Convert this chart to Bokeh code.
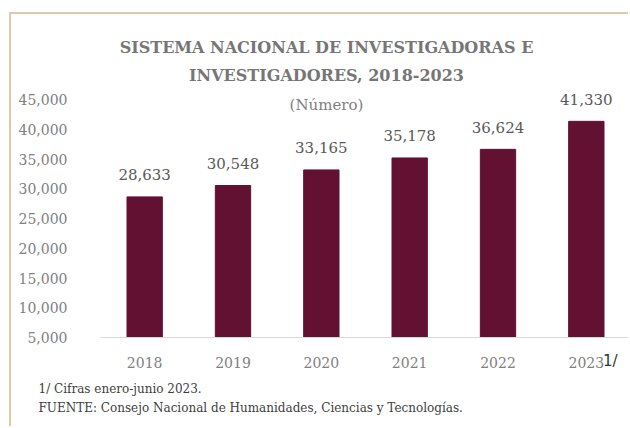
from bokeh.plotting import figure
from bokeh.models import (ColumnDataSource, LabelSet, Label, FixedTicker, Range1d,
                          NumeralTickFormatter, LinearAxis, Title)
from bokeh.embed import file_html
from bokeh.resources import INLINE
from bokeh.core.properties import value

years = ["2018", "2019", "2020", "2021", "2022", "2023"]
counts = [28633, 30548, 33165, 35178, 36624, 41330]
y_ticks = [5000, 10000, 15000, 20000, 25000, 30000, 35000, 40000, 45000]

title1 = "SISTEMA NACIONAL DE INVESTIGADORAS E"
title2 = "INVESTIGADORES, 2018-2023"
subtitle = "(Número)"
note1 = "1/ Cifras enero-junio 2023."
note2 = "FUENTE: Consejo Nacional de Humanidades, Ciencias y Tecnologías."
note_mark = "1/"

SERIF = "DejaVu Serif"
BAR = "#621132"
FRAME = "#DDCBA6"

xs = list(range(len(years)))
src = ColumnDataSource(dict(x=xs, y=counts, lab=[f"{v:,}" for v in counts]))

p = figure(width=619, height=414, output_backend="svg", toolbar_location=None,
           x_range=Range1d(-0.5, 5.5), y_range=Range1d(5000, 59290),
           min_border_left=89, min_border_right=0, min_border_top=0, min_border_bottom=91)
p.styles = {"border-top": f"2px solid {FRAME}", "border-left": f"2px solid {FRAME}",
            "margin-left": "9px", "margin-top": "12px"}
p.outline_line_color = None
p.background_fill_color = "white"
p.border_fill_color = "white"
p.xgrid.grid_line_color = None
p.ygrid.grid_line_color = None

p.vbar(x="x", top="y", bottom=5000, width=0.4, source=src, color=BAR)

p.xaxis.ticker = FixedTicker(ticks=xs)
p.xaxis.major_label_overrides = {i: y for i, y in enumerate(years)}
p.xaxis.axis_line_color = "#d9d9d9"
p.xaxis.major_tick_line_color = None
p.xaxis.minor_tick_line_color = None
p.xaxis.major_label_text_font = SERIF
p.xaxis.major_label_text_font_size = "14px"
p.xaxis.major_label_text_color = "#808080"
p.xaxis.major_label_standoff = 13

mark_axis = LinearAxis(ticker=FixedTicker(ticks=[5.27]), major_label_overrides={5.27: note_mark},
                       axis_line_color=None, major_tick_line_color=None, minor_tick_line_color=None,
                       major_label_text_font="DejaVu Sans", major_label_text_font_size="15px",
                       major_label_text_color="#333333", major_label_standoff=-25)
p.add_layout(mark_axis, "below")

p.yaxis.ticker = FixedTicker(ticks=y_ticks)
p.yaxis.formatter = NumeralTickFormatter(format="0,0")
p.yaxis.axis_line_color = None
p.yaxis.major_tick_line_color = None
p.yaxis.minor_tick_line_color = None
p.yaxis.major_label_text_font = SERIF
p.yaxis.major_label_text_font_size = "14px"
p.yaxis.major_label_text_color = "#808080"
p.yaxis.major_label_standoff = 27

p.add_layout(LabelSet(x="x", y="y", text="lab", source=src, text_align="center",
                      text_baseline="middle", y_offset=22, text_font=value(SERIF),
                      text_font_size="15px", text_color="#595959"))

def lab(text, x, y, size, color, style="normal"):
    p.add_layout(Label(x=x, y=y, x_units="screen", y_units="screen", text=text, text_align="center",
                       text_baseline="middle", text_font=SERIF, text_font_size=size,
                       text_color=color, text_font_style=style))

lab(title1, 226, 290, "16px", "#767676", "bold")
lab(title2, 226, 262, "16px", "#767676", "bold")
lab(subtitle, 226, 233, "15px", "#808080")

for t, so in ((note1, 14), (note2, -8)):
    p.add_layout(Title(text=t, align="left", offset=-62, standoff=so, text_font=SERIF,
                       text_font_size="12px", text_font_style="normal", text_color="#404040"),
                 "below")

open("out.html", "w").write(file_html(p, INLINE))
